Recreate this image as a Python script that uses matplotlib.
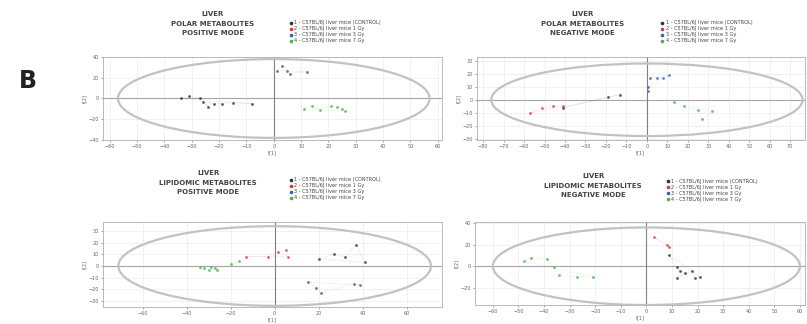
import numpy as np
import matplotlib
matplotlib.use("Agg")
import matplotlib.pyplot as plt
from matplotlib.patches import Ellipse
from matplotlib.lines import Line2D

# score values (t[1], t[2]) per panel and group
tl_black_x = [-34, -31, -27, -24, -26, -22, -19, -15, -8]
tl_black_y = [0, 2, 0, -8, -3, -5, -5, -4, -5]
tl_dark_x = [1, 3, 5, 6, 12]
tl_dark_y = [27, 31, 27, 24, 26]
tl_green_x = [11, 14, 17, 21, 23, 25, 26]
tl_green_y = [-10, -7, -11, -7, -8, -10, -12]

tr_red_x = [-57, -51, -46, -41]
tr_red_y = [-10, -6, -5, -5]
tr_black_x = [-41, -19, -13]
tr_black_y = [-6, 2, 4]
tr_blue_x = [0.5, 0.5, 1.5, 5, 8, 11]
tr_blue_y = [10, 7, 17, 17, 17, 19]
tr_green_x = [13, 18, 25, 27, 32]
tr_green_y = [-2, -5, -8, -15, -9]

bl_green_x = [-34, -32, -30, -29, -27, -26, -20, -16]
bl_green_y = [-1, -2, -3, -1, -2, -3, 2, 4]
bl_red_x = [-13, -3, 1.5, 5, 6]
bl_red_y = [8, 8, 12, 14, 8]
bl_black_x = [20, 27, 32, 37, 41]
bl_black_y = [6, 10, 8, 18, 3]
bl_dark_x = [15, 19, 21, 36, 39]
bl_dark_y = [-14, -19, -23, -15, -16]

br_red_x = [3, 8, 9]
br_red_y = [27, 20, 18]
br_black_x = [9, 12, 13, 15, 12, 18, 19, 21]
br_black_y = [10, -1, -4, -6, -11, -4, -11, -10]
br_green_x = [-48, -45, -39, -36, -34, -27, -21]
br_green_y = [5, 8, 7, -1, -8, -10, -10]

group_labels = [
    "1 - C57BL/6J liver mice (CONTROL)",
    "2 - C57BL/6J liver mice 1 Gy",
    "3 - C57BL/6J liver mice 3 Gy",
    "4 - C57BL/6J liver mice 7 Gy",
]
group_colors = ["#333333", "#d04040", "#4060b0", "#50b050"]

titles = [
    ["LIVER", "POLAR METABOLITES", "POSITIVE MODE"],
    ["LIVER", "POLAR METABOLITES", "NEGATIVE MODE"],
    ["LIVER", "LIPIDOMIC METABOLITES", "POSITIVE MODE"],
    ["LIVER", "LIPIDOMIC METABOLITES", "NEGATIVE MODE"],
]


def draw_group(ax, x, y, color):
    ax.plot(x + x[:1], y + y[:1], linestyle=":", linewidth=0.5,
            color=color, alpha=0.25, zorder=2)
    ax.scatter(x, y, s=4, color=color, marker="o", linewidths=0,
               alpha=0.8, zorder=3)


def setup_axes(ax, xlim, ylim, xstep, ystep, ell_w, ell_h):
    ax.set_xlim(xlim)
    ax.set_ylim(ylim)
    ax.set_xticks(np.arange(np.ceil(xlim[0] / xstep) * xstep, xlim[1] + 0.01, xstep))
    ax.set_yticks(np.arange(np.ceil(ylim[0] / ystep) * ystep, ylim[1] + 0.01, ystep))
    ax.grid(True, color="#ebebeb", linewidth=0.5)
    ax.set_axisbelow(True)
    ax.axhline(0, color="#a5a5a5", linewidth=0.8, zorder=1)
    ax.axvline(0, color="#808080", linewidth=0.8, zorder=1)
    ax.add_patch(Ellipse((0, 0), 2 * ell_w, 2 * ell_h, fill=False,
                         edgecolor="#c2c2c2", linewidth=1.6, zorder=1))
    ax.tick_params(labelsize=3.5, length=1.5, width=0.4, pad=1.5, colors="#666666")
    for sp in ax.spines.values():
        sp.set_color("#b0b0b0")
        sp.set_linewidth(0.6)
    ax.set_xlabel("t[1]", fontsize=3.5, labelpad=1, color="#666666")
    ax.set_ylabel("t[2]", fontsize=3.5, labelpad=1, color="#666666")


def add_header(fig, ax, title_lines, title_x, title_y, leg_x, leg_y):
    fig.text(title_x, title_y, "\n".join(title_lines), ha="center", va="top",
             fontsize=5, fontweight="bold", color="#444444", linespacing=1.7)
    handles = [Line2D([0], [0], marker="o", color=c, linestyle="None",
                      markersize=1.6, label=l) for c, l in zip(group_colors, group_labels)]
    ax.legend(handles=handles, loc="upper left", bbox_to_anchor=(leg_x, leg_y),
              bbox_transform=fig.transFigure, frameon=False, fontsize=3.6,
              handletextpad=0.3, labelspacing=0.2, borderpad=0, handlelength=0.8,
              labelcolor="#444444")


fig = plt.figure(figsize=(8.07, 3.24), dpi=100)

ax1 = fig.add_axes([0.1276, 0.568, 0.420, 0.256])
ax2 = fig.add_axes([0.591, 0.568, 0.406, 0.256])
ax3 = fig.add_axes([0.1276, 0.0525, 0.420, 0.262])
ax4 = fig.add_axes([0.5886, 0.0586, 0.409, 0.256])

setup_axes(ax1, (-62.5, 61.5), (-40, 40), 10, 20, 57, 38)
draw_group(ax1, tl_black_x, tl_black_y, group_colors[0])
draw_group(ax1, tl_dark_x, tl_dark_y, "#555555")
draw_group(ax1, tl_green_x, tl_green_y, group_colors[3])

setup_axes(ax2, (-83, 77), (-31, 33), 10, 10, 76, 28)
draw_group(ax2, tr_red_x, tr_red_y, group_colors[1])
draw_group(ax2, tr_black_x, tr_black_y, group_colors[0])
draw_group(ax2, tr_blue_x, tr_blue_y, group_colors[2])
draw_group(ax2, tr_green_x, tr_green_y, group_colors[3])

setup_axes(ax3, (-78, 76), (-35, 37.5), 20, 10, 71, 34)
draw_group(ax3, bl_green_x, bl_green_y, group_colors[3])
draw_group(ax3, bl_red_x, bl_red_y, group_colors[1])
draw_group(ax3, bl_black_x, bl_black_y, group_colors[0])
draw_group(ax3, bl_dark_x, bl_dark_y, "#555555")

setup_axes(ax4, (-67, 62), (-36, 41), 10, 20, 60, 36)
draw_group(ax4, br_red_x, br_red_y, group_colors[1])
draw_group(ax4, br_black_x, br_black_y, group_colors[0])
draw_group(ax4, br_green_x, br_green_y, group_colors[3])

add_header(fig, ax1, titles[0], 0.264, 0.965, 0.355, 0.945)
add_header(fig, ax2, titles[1], 0.722, 0.965, 0.815, 0.945)
add_header(fig, ax3, titles[2], 0.258, 0.475, 0.355, 0.46)
add_header(fig, ax4, titles[3], 0.735, 0.465, 0.822, 0.455)

fig.text(0.035, 0.75, "B", fontsize=17, fontweight="bold", color="#222222",
         ha="center", va="center")

fig.savefig("out.png", dpi=100)
